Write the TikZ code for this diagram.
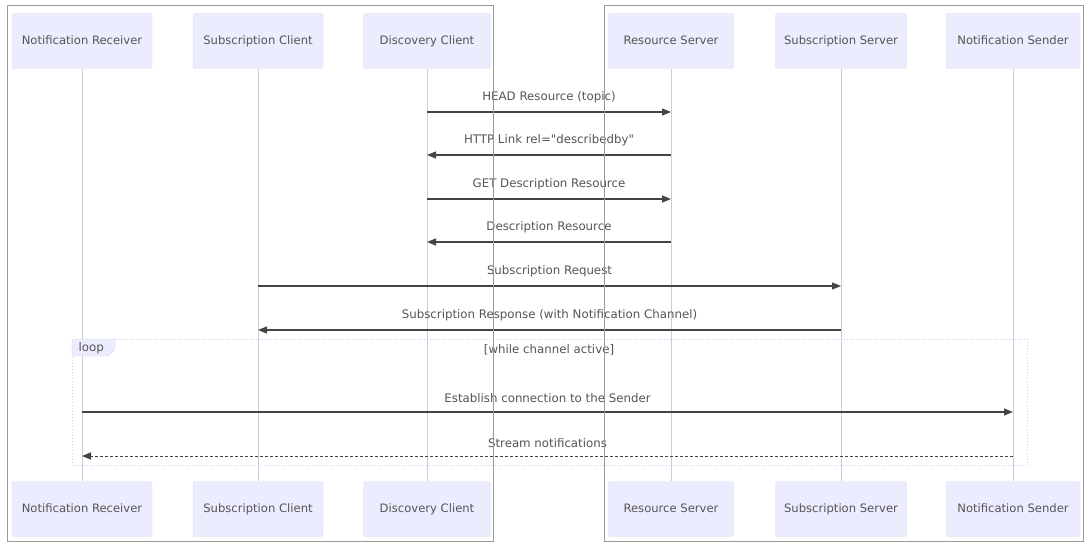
\documentclass[tikz,border=0pt]{standalone}
\usepackage{fontspec}
\setmainfont{DejaVu Sans}
\newfontfamily\plainsans{DejaVu Sans}
\usepackage{xcolor}
\usepackage{tikz}
\usetikzlibrary{arrows.meta, positioning, calc}
\definecolor{actorfill}{HTML}{ECECFF}
\definecolor{actorline}{HTML}{DCDCF2}
\definecolor{lifeline}{HTML}{CACAE4}
\definecolor{msgline}{HTML}{444444}
\definecolor{msgtext}{HTML}{555555}
\definecolor{framegray}{HTML}{999999}

\tikzset{
    actor/.style={draw=actorline, fill=actorfill, rounded corners=2pt, minimum width=136pt,
        minimum height=55pt, text=msgtext, font=\fontsize{11.6}{13}\selectfont,
        text height=1.6ex, text depth=0.4ex},
    life/.style={draw=lifeline, line width=0.8pt},
    msg/.style={draw=msgline, line width=1.1pt, -{Triangle[length=9pt,width=7pt]}},
    reply/.style={msg, dash pattern=on 3pt off 2pt, line width=1pt},
    msglabel/.style={text=msgtext, font=\fontsize{11.8}{13}\selectfont},
}

\begin{document}
\begin{tikzpicture}[x=1pt, y=-1pt]
        \useasboundingbox (0,0) rectangle (1087,543);
        \fill[white] (0,0) rectangle (1087,543);

        % Actors, top row
        \node[actor, minimum width=140pt] (recT) at (82,41) {Notification Receiver};
        \node[actor, minimum width=130pt] (subcT) at (258,41) {Subscription Client};
        \node[actor, minimum width=127pt] (discT) at (427,41) {Discovery Client};
        \node[actor, minimum width=125pt] (resT) at (671,41) {Resource Server};
        \node[actor, minimum width=131pt] (subsT) at (841,41) {Subscription Server};
        \node[actor, minimum width=134pt] (sendT) at (1013,41) {Notification Sender};

        % Actors, bottom row
        \node[actor, minimum width=140pt] (recB) at (82,509) {Notification Receiver};
        \node[actor, minimum width=130pt] (subcB) at (258,509) {Subscription Client};
        \node[actor, minimum width=127pt] (discB) at (427,509) {Discovery Client};
        \node[actor, minimum width=125pt] (resB) at (671,509) {Resource Server};
        \node[actor, minimum width=131pt] (subsB) at (841,509) {Subscription Server};
        \node[actor, minimum width=134pt] (sendB) at (1013,509) {Notification Sender};

        % Lifelines
        \foreach \a in {rec, subc, disc, res, subs, send}
            \draw[life] (\a T.south) -- (\a B.north);

        % Loop frame
        \draw[lifeline, dotted, line width=1pt] (72,339) rectangle (1027,465);
        \draw[actorline, fill=actorfill] (72,339) -- (115,339) -- (115,349) -- (108,356) -- (72,356) -- cycle;
        \node[msglabel, anchor=west] (looptag) at (75,348) {loop};
        \node[msglabel] (guard) at (549,350) {[while channel active]};

        % Discovery
        \draw[msg] (discT.south |- 0,112) -- (resT.south |- 0,112)
            node[msglabel, midway, above=5pt] {HEAD Resource (topic)};
        \draw[msg] (resT.south |- 0,155) -- (discT.south |- 0,155)
            node[msglabel, midway, above=5pt] {\plainsans HTTP Link rel="describedby"};
        \draw[msg] (discT.south |- 0,199) -- (resT.south |- 0,199)
            node[msglabel, midway, above=5pt] {GET Description Resource};
        \draw[msg] (resT.south |- 0,242) -- (discT.south |- 0,242)
            node[msglabel, midway, above=5pt] {Description Resource};

        % Subscription
        \draw[msg] (subcT.south |- 0,286) -- (subsT.south |- 0,286)
            node[msglabel, midway, above=5pt] {Subscription Request};
        \draw[msg] (subsT.south |- 0,330) -- (subcT.south |- 0,330)
            node[msglabel, midway, above=5pt] {Subscription Response (with Notification Channel)};

        % Notifications
        \draw[msg] (recT.south |- 0,412) -- (sendT.south |- 0,412)
            node[msglabel, midway, above=5pt] {Establish connection to the Sender};
        \draw[reply] (sendT.south |- 0,456) -- (recT.south |- 0,456)
            node[msglabel, midway, above=5pt] {Stream notifications};

        % Outer frames
        \draw[framegray, line width=0.9pt] (7,5) rectangle (493,541);
        \draw[framegray, line width=0.9pt] (604,5) rectangle (1083,541);
    \end{tikzpicture}
\end{document}
